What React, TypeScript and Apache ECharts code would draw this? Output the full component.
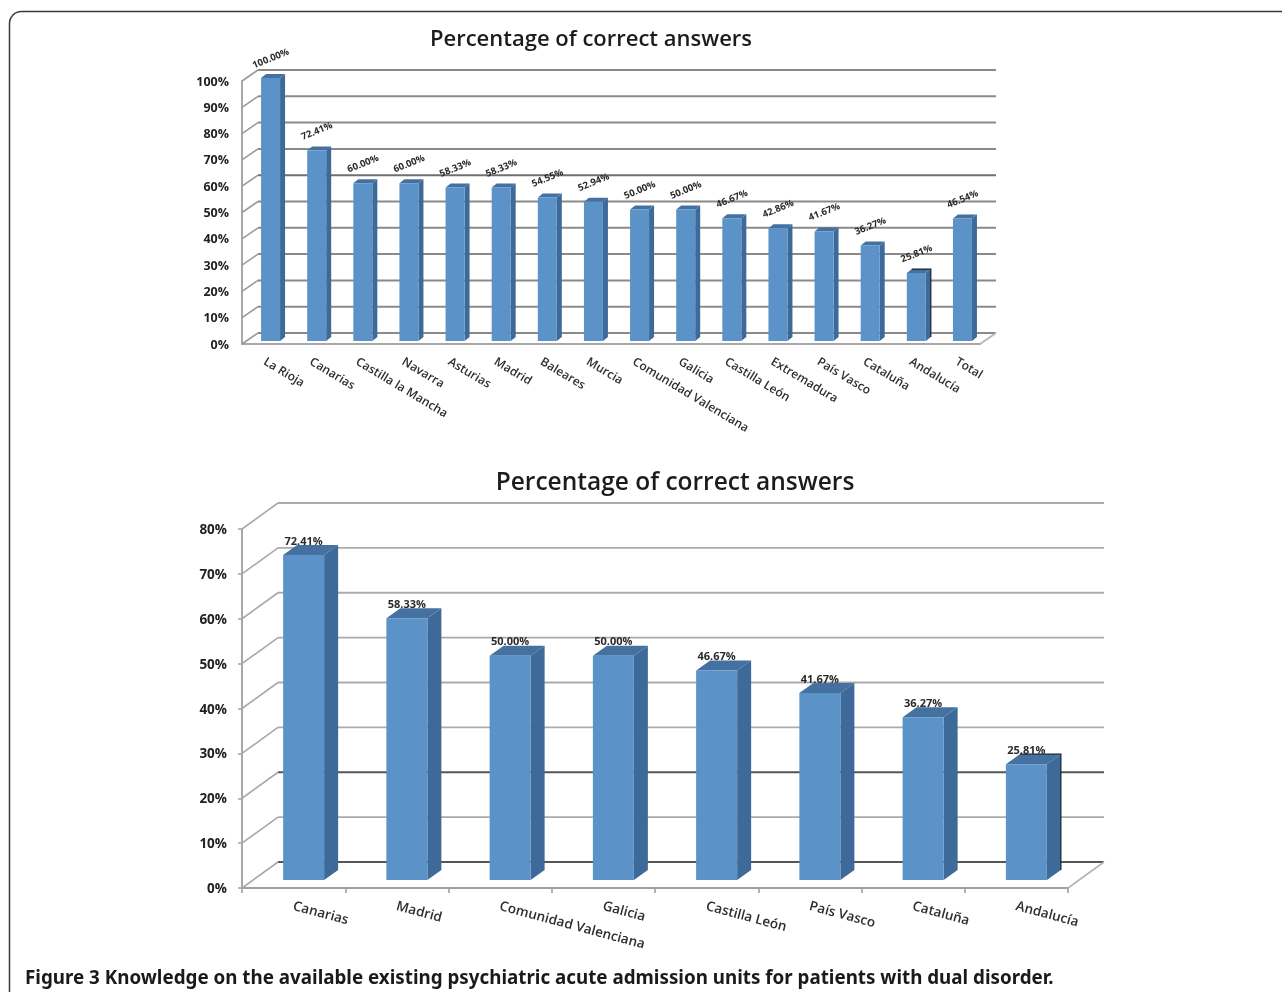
import React, { useEffect, useRef } from "react";
import * as echarts from "echarts";

const titleText = "Percentage of correct answers";
const captionText =
  "Figure 3 Knowledge on the available existing psychiatric acute admission units for patients with dual disorder.";

const topCategories = [
  "La Rioja", "Canarias", "Castilla la Mancha", "Navarra", "Asturias", "Madrid", "Baleares", "Murcia",
  "Comunidad Valenciana", "Galicia", "Castilla León", "Extremadura", "País Vasco", "Cataluña", "Andalucía", "Total",
];
const topValues = [100, 72.41, 60, 60, 58.33, 58.33, 54.55, 52.94, 50, 50, 46.67, 42.86, 41.67, 36.27, 25.81, 46.54];
const topTicks = [0, 10, 20, 30, 40, 50, 60, 70, 80, 90, 100];

const bottomCategories = [
  "Canarias", "Madrid", "Comunidad Valenciana", "Galicia", "Castilla León", "País Vasco", "Cataluña", "Andalucía",
];
const bottomValues = [72.41, 58.33, 50, 50, 46.67, 41.67, 36.27, 25.81];
const bottomTicks = [0, 10, 20, 30, 40, 50, 60, 70, 80];

const FONT = "'Open Sans', 'Noto Sans', sans-serif";
const FRONT = "#5b93c9";
const SIDE = "#3d6a99";
const TOP = "#44719f";

type Look = {
  shift: [number, number];
  half: number;
  depth: [number, number];
  labelDy: number;
  labelRot: number;
  labelSize: number;
  lineColor: (v: number) => string;
  lineWidth: number;
  dark: number;
};

const topLook: Look = {
  shift: [5.5, -3],
  half: 9.5,
  depth: [5, -4],
  labelDy: -20,
  labelRot: 22,
  labelSize: 9.5,
  lineColor: (v) => (v === 60 ? "#6f6f6f" : "#8a8a8a"),
  lineWidth: 2,
  dark: 14,
};
const bottomLook: Look = {
  shift: [10, -8],
  half: 20.5,
  depth: [14, -10],
  labelDy: -15,
  labelRot: 0,
  labelSize: 11,
  lineColor: (v) => (v === 20 || v === 0 ? "#555555" : "#ababab"),
  lineWidth: 1.8,
  dark: 7,
};

function frameItem(look: Look, backDx: number, backDy: number, frontColor: string) {
  return (params: any, api: any) => {
    const v = api.value(0);
    const cs = params.coordSys;
    const y = api.coord([0, v])[1];
    const left = cs.x;
    const right = cs.x + cs.width;
    const children: any[] = [
      {
        type: "line",
        shape: { x1: left + backDx, y1: y + backDy, x2: right + backDx, y2: y + backDy },
        style: { stroke: look.lineColor(v), lineWidth: look.lineWidth },
      },
      {
        type: "line",
        shape: { x1: left, y1: y, x2: left + backDx, y2: y + backDy },
        style: { stroke: frontColor, lineWidth: 1.6 },
      },
    ];
    if (v === 0) {
      children.push({
        type: "line",
        shape: { x1: right, y1: y, x2: right + backDx, y2: y + backDy },
        style: { stroke: "#b5b5b5", lineWidth: 1.6 },
      });
    }
    return { type: "group", children };
  };
}

function barItem(look: Look) {
  return (params: any, api: any) => {
    const idx = api.value(0);
    const val = api.value(1);
    const topPt = api.coord([idx, val]);
    const basePt = api.coord([idx, 0]);
    const cx = topPt[0] + look.shift[0];
    const x0 = cx - look.half;
    const x1 = cx + look.half;
    const yt = topPt[1] + look.shift[1];
    const yb = basePt[1] + look.shift[1];
    const [dx, dy] = look.depth;
    const isDark = idx === look.dark;
    const children: any[] = [
      {
        type: "polygon",
        shape: { points: [[x1, yt], [x1 + dx, yt + dy], [x1 + dx, yb + dy], [x1, yb]] },
        style: { fill: SIDE },
      },
      {
        type: "polygon",
        shape: { points: [[x0, yt], [x0 + dx, yt + dy], [x1 + dx, yt + dy], [x1, yt]] },
        style: { fill: TOP },
      },
      { type: "rect", shape: { x: x0, y: yt, width: x1 - x0, height: yb - yt }, style: { fill: FRONT } },
    ];
    if (isDark) {
      children.push({
        type: "polyline",
        shape: { points: [[x0 + dx, yt + dy], [x1 + dx, yt + dy], [x1 + dx, yb + dy]] },
        style: { stroke: "#17222e", lineWidth: 1.2, fill: "none" },
      });
    }
    children.push({
      type: "text",
      x: cx,
      y: yt + look.labelDy,
      rotation: (look.labelRot * Math.PI) / 180,
      style: {
        text: val.toFixed(2) + "%",
        align: "center",
        verticalAlign: "middle",
        font: `700 ${look.labelSize}px ${FONT}`,
        fill: "#2a2a2a",
      },
    });
    return { type: "group", children };
  };
}

const option: any = {
  animation: false,
  backgroundColor: "#ffffff",
  textStyle: { fontFamily: FONT },
  title: [
    {
      text: titleText,
      left: 586,
      top: 32,
      textAlign: "center",
      textVerticalAlign: "middle",
      textStyle: { fontFamily: FONT, fontSize: 22, fontWeight: 600, color: "#1c1c1c" },
    },
    {
      text: titleText,
      left: 670,
      top: 475,
      textAlign: "center",
      textVerticalAlign: "middle",
      textStyle: { fontFamily: FONT, fontSize: 24.5, fontWeight: 600, color: "#1c1c1c" },
    },
  ],
  grid: [
    { left: 242, top: 81, width: 738, height: 263, containLabel: false },
    { left: 242, top: 529, width: 826, height: 359, containLabel: false },
  ],
  xAxis: [
    {
      type: "category",
      gridIndex: 0,
      data: topCategories,
      axisLine: { show: true, lineStyle: { color: "#a8a8a8", width: 2 } },
      axisTick: { show: false },
      splitLine: { show: false },
      axisLabel: {
        interval: 0,
        rotate: -31,
        margin: 16,
        fontFamily: FONT,
        fontSize: 12,
        fontWeight: 600,
        color: "#2e2e2e",
      },
    },
    {
      type: "category",
      gridIndex: 1,
      data: bottomCategories,
      axisLine: { show: true, lineStyle: { color: "#a0a0a0", width: 2 } },
      axisTick: { show: true, alignWithLabel: false, length: 5, lineStyle: { color: "#a0a0a0", width: 1.6 } },
      splitLine: { show: false },
      axisLabel: {
        interval: 0,
        rotate: -15,
        margin: 17,
        fontFamily: FONT,
        fontSize: 13.5,
        fontWeight: 600,
        color: "#2e2e2e",
      },
    },
  ],
  yAxis: [
    {
      type: "value",
      gridIndex: 0,
      min: 0,
      max: 100,
      interval: 10,
      axisLine: { show: true, lineStyle: { color: "#a8a8a8", width: 2 } },
      axisTick: { show: false },
      splitLine: { show: false },
      axisLabel: {
        formatter: "{value}%",
        margin: 13,
        fontFamily: FONT,
        fontSize: 12.5,
        fontWeight: 700,
        color: "#222222",
      },
    },
    {
      type: "value",
      gridIndex: 1,
      min: 0,
      max: 80,
      interval: 10,
      axisLine: { show: true, lineStyle: { color: "#a8a8a8", width: 2 } },
      axisTick: { show: true, length: 4, lineStyle: { color: "#a8a8a8", width: 1.6 } },
      splitLine: { show: false },
      axisLabel: {
        formatter: "{value}%",
        margin: 15,
        fontFamily: FONT,
        fontSize: 13.5,
        fontWeight: 700,
        color: "#222222",
      },
    },
  ],
  series: [
    {
      type: "custom",
      xAxisIndex: 0,
      yAxisIndex: 0,
      silent: true,
      encode: { y: 0 },
      data: topTicks.map((t) => [t]),
      renderItem: frameItem(topLook, 16, -11, "#9a9a9a"),
      z: 1,
    },
    {
      type: "custom",
      xAxisIndex: 0,
      yAxisIndex: 0,
      silent: true,
      encode: { x: 0, y: 1 },
      data: topValues.map((v, i) => [i, v]),
      renderItem: barItem(topLook),
      z: 3,
    },
    {
      type: "custom",
      xAxisIndex: 1,
      yAxisIndex: 1,
      silent: true,
      encode: { y: 0 },
      data: bottomTicks.map((t) => [t]),
      renderItem: frameItem(bottomLook, 36, -26, "#a8a8a8"),
      z: 1,
    },
    {
      type: "custom",
      xAxisIndex: 1,
      yAxisIndex: 1,
      silent: true,
      encode: { x: 0, y: 1 },
      data: bottomValues.map((v, i) => [i, v]),
      renderItem: barItem(bottomLook),
      z: 3,
    },
  ],
  graphic: [
    {
      type: "rect",
      silent: true,
      shape: { x: 9.5, y: 11.5, width: 1500, height: 1300, r: 12 },
      style: { fill: "none", stroke: "#3a3a3a", lineWidth: 1.5 },
    },
    {
      type: "text",
      x: 25,
      y: 977,
      style: {
        text: captionText,
        font: "700 18.8px 'Noto Sans', sans-serif",
        fill: "#1a1a1a",
        verticalAlign: "middle",
      },
    },
  ],
};

export default function App() {
  const ref = useRef<HTMLDivElement>(null);
  useEffect(() => {
    const chart = echarts.init(ref.current as HTMLDivElement, undefined, { renderer: "svg" });
    chart.setOption(option);
    return () => chart.dispose();
  }, []);
  return (
    <div
      ref={ref}
      style={{ position: "absolute", left: 0, top: 0, width: 1282, height: 992, filter: "blur(0.45px)" }}
    />
  );
}
